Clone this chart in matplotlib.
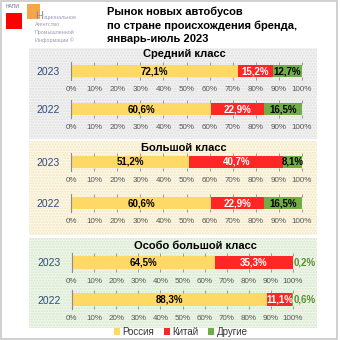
import numpy as np
import matplotlib
matplotlib.use("Agg")
import matplotlib.pyplot as plt
import matplotlib.patches as mpatches

plt.rcParams["font.family"] = ["Liberation Sans", "DejaVu Sans"]

# ── Data ──────────────────────────────────────────────────────────────────────
classes = ["Средний класс", "Большой класс", "Особо большой класс"]
years = ["2023", "2022"]
russia = [[72.1, 60.6], [51.2, 60.6], [64.5, 88.3]]
china = [[15.2, 22.9], [40.7, 22.9], [35.3, 11.1]]
other = [[12.7, 16.5], [8.1, 16.5], [0.2, 0.6]]
series_names = ["Россия", "Китай", "Другие"]
ticks = np.arange(0, 101, 10)

COLORS = ["#FFD966", "#FF2626", "#70AD47"]
TEXT_COLORS = ["black", "white", "black"]
OUT_COLOR = "#5B8E2F"
YEAR_COLOR = "#2E4A7D"
TICK_COLOR = "#595959"

W, H = 340, 340


def box(x0, y0, x1, y1):
    """Pixel box (top-left origin) -> figure fraction rect."""
    return [x0 / W, 1 - y1 / H, (x1 - x0) / W, (y1 - y0) / H]


def fig_rect(x0, y0, x1, y1, **kw):
    r = box(x0, y0, x1, y1)
    fig.patches.append(mpatches.Rectangle((r[0], r[1]), r[2], r[3],
                                          transform=fig.transFigure, **kw))


# ── Layout (pixels) ───────────────────────────────────────────────────────────
panel_boxes = [(29, 48, 317, 139), (29, 141, 317, 235), (29, 238, 317, 328)]
panel_faces = ["#f3f3f3", "#fdf8e8", "#eff6ea"]
panel_dots = ["#dedede", "#f2e6c0", "#d6e8cc"]
title_pos = [(184, 54), (184, 148), (195, 246)]
bar_x = [(71, 302), (71, 302), (72, 293)]
bar_y = [[(65, 77), (103, 115)], [(156, 168), (197, 209)], [(256, 269), (293, 306)]]

fig = plt.figure(figsize=(3.4, 3.4), dpi=100)
fig.patch.set_facecolor("white")
fig.patches.append(mpatches.Rectangle((0.002, 0.004), 0.99, 0.994, transform=fig.transFigure,
                                      fill=False, edgecolor="#c8c8c8", linewidth=1.2, zorder=-2))

for pb, fc, dc in zip(panel_boxes, panel_faces, panel_dots):
    fig_rect(*pb, facecolor=fc, edgecolor=dc, linewidth=0, hatch="......", zorder=-1)

# ── Header ────────────────────────────────────────────────────────────────────
fig.text(107 / W, 1 - 25 / H, "Рынок новых автобусов\nпо стране происхождения бренда,\nянварь-июль 2023",
         fontsize=8, fontweight="bold", ha="left", va="center", linespacing=1.4)

# logo
fig_rect(6, 13, 22, 29, facecolor="#ff0000", edgecolor="none", zorder=-1)
fig_rect(27, 4, 40, 19, facecolor="#f5952a", edgecolor="none", alpha=0.85, zorder=-1)
fig.text(6 / W, 1 - 7 / H, "НАПИ", fontsize=3.6, color="#5a6a8a", va="center")
fig.text(35.5 / W, 1 - 16 / H, "Н", fontsize=8, color="#8c8ca4", va="center")
fig.text(43.5 / W, 1 - 17.5 / H, "ациональное", fontsize=3.9, color="#9a9ab0", va="center")
fig.text(35 / W, 1 - 25 / H, "Агентство", fontsize=3.9, color="#9a9ab0", va="center")
fig.text(35 / W, 1 - 32.5 / H, "Промышленной", fontsize=3.9, color="#9a9ab0", va="center")
fig.text(35 / W, 1 - 40 / H, "Информации ©", fontsize=3.9, color="#9a9ab0", va="center")

# ── Bars ──────────────────────────────────────────────────────────────────────
handles = None
for i, cls in enumerate(classes):
    fig.text(title_pos[i][0] / W, 1 - title_pos[i][1] / H, cls, fontsize=8,
             fontweight="bold", ha="center", va="center")
    for j, year in enumerate(years):
        vals = [russia[i][j], china[i][j], other[i][j]]
        ax = fig.add_axes(box(bar_x[i][0], bar_y[i][j][0], bar_x[i][1], bar_y[i][j][1]))
        ax.patch.set_alpha(0)
        left = 0
        bars = []
        for k, v in enumerate(vals):
            b = ax.barh(0, v, left=left, height=1, color=COLORS[k], edgecolor="none")
            bars.append(b)
            lab = f"{v:.1f}%".replace(".", ",")
            if v >= 3:
                ax.text(left + v / 2, 0, lab, ha="center", va="center", fontsize=7,
                        fontweight="bold", color=TEXT_COLORS[k])
            else:
                ax.text(100.4, 0, lab, ha="left", va="center", fontsize=7,
                        fontweight="bold", color=OUT_COLOR, clip_on=False)
            left += v
        if handles is None:
            handles = bars
        ax.set_xlim(0, 100)
        ax.set_ylim(-0.5, 0.5)
        for s in ax.spines.values():
            s.set_visible(False)
        ax.axvline(0, ymin=-0.25, ymax=1.25, color="#8c8c8c", lw=0.8, clip_on=False)
        ax.set_xticks(ticks)
        ax.set_xticklabels([f"{t}%" for t in ticks])
        ax.tick_params(axis="x", top=True, bottom=True, direction="out", length=2.2,
                       width=0.6, color="#8c8c8c", labelsize=5.8, labelcolor=TICK_COLOR, pad=4.4)
        ax.set_yticks([0])
        ax.set_yticklabels([year])
        ax.tick_params(axis="y", length=0, pad=8, labelsize=7.5, labelcolor=YEAR_COLOR)

fig.legend([h[0] for h in handles], series_names, loc="center", bbox_to_anchor=(181 / W, 1 - 332 / H),
           ncol=3, frameon=False, fontsize=7, handlelength=0.6, handleheight=0.6,
           handletextpad=0.25, columnspacing=1.0, borderpad=0, labelcolor="#333333")

plt.savefig("out.png", dpi=100)
plt.close()
